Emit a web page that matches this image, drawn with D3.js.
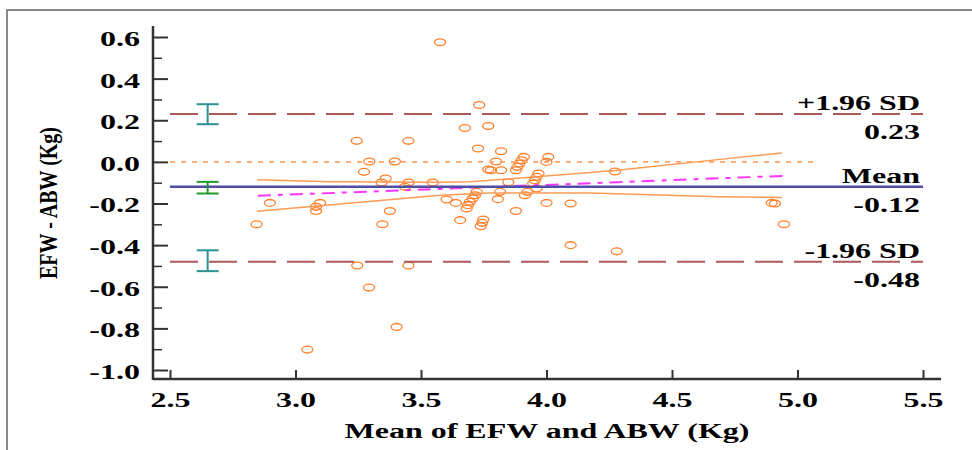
<!DOCTYPE html>
<html>
<head>
<meta charset="utf-8">
<script src="https://cdn.jsdelivr.net/npm/d3@7"></script>
<style>
  body { margin: 0; background: #fff; }
</style>
</head>
<body>
<svg id="chart" width="972" height="450"></svg>
<script>
// mean of EFW and ABW (x) and their difference (y), one entry per case
const meanX = [3.576, 3.732, 3.675, 3.768, 3.244, 3.450, 3.727, 3.819, 3.294, 3.396,
  3.799, 3.768, 3.273, 3.359, 3.343, 3.450, 3.547, 3.436, 2.898, 3.098,
  3.082, 3.082, 3.376, 3.602, 3.639, 3.722, 3.715, 3.706, 3.695, 3.687,
  3.682, 3.910, 3.901, 3.892, 3.884, 3.878, 4.007, 4.000, 3.779, 3.819,
  3.968, 3.961, 3.954, 3.947, 3.848, 3.815, 3.960, 3.924, 3.914, 3.806,
  4.000, 4.096, 3.878, 2.845, 3.346, 3.656, 3.748, 3.744, 3.738, 4.273,
  4.897, 4.910, 4.946, 4.096, 4.280, 3.246, 3.450, 3.293, 3.403, 3.047];
const diffY = [0.575, 0.273, 0.163, 0.172, 0.101, 0.101, 0.064, 0.051, 0.002, 0.002,
  0.002, -0.037, -0.048, -0.080, -0.099, -0.099, -0.099, -0.120, -0.197, -0.197,
  -0.216, -0.236, -0.236, -0.181, -0.197, -0.144, -0.160, -0.176, -0.192, -0.208,
  -0.224, 0.024, 0.008, -0.008, -0.024, -0.040, 0.024, 0.000, -0.040, -0.040,
  -0.056, -0.072, -0.088, -0.104, -0.098, -0.144, -0.128, -0.144, -0.160, -0.179,
  -0.197, -0.200, -0.236, -0.300, -0.300, -0.280, -0.277, -0.293, -0.309, -0.046,
  -0.197, -0.200, -0.300, -0.400, -0.430, -0.498, -0.498, -0.604, -0.793, -0.902];

const xTicks = [2.5, 3.0, 3.5, 4.0, 4.5, 5.0, 5.5];
const yTicks = [0.6, 0.4, 0.2, 0.0, -0.2, -0.4, -0.6, -0.8, -1.0];
const yMinorTicks = [0.5, 0.3, 0.1, -0.1, -0.3, -0.5, -0.7, -0.9];

// mean difference and limits of agreement
const limitNames = ['+1.96 SD', 'Mean', '-1.96 SD'];
const limitValues = [0.23, -0.12, -0.48];
const limitLabels = ['0.23', '-0.12', '-0.48'];
const limitSpan = [2.5, 5.5];
// 95% CI of each limit, drawn as bars at ciX
const ciX = 2.65;
const ciLow = [0.181, -0.152, -0.525];
const ciHigh = [0.277, -0.096, -0.425];

const zeroSpan = [2.5, 5.08];

// regression of difference on mean, with its confidence band
const regX = [2.85, 4.95];
const regY = [-0.163, -0.067];
const bandUpX = [2.847, 3.137, 3.576, 3.695, 4.273, 4.691, 4.938];
const bandUpY = [-0.086, -0.095, -0.098, -0.096, -0.042, 0.012, 0.043];
const bandLoX = [2.847, 3.576, 3.775, 4.173, 4.691, 4.938];
const bandLoY = [-0.237, -0.160, -0.149, -0.149, -0.168, -0.171];

const SX = 1.6; // the picture is wide: glyphs are stretched sideways
const font = "'Liberation Serif', 'Times New Roman', serif";

const svg = d3.select('#chart');

const x = d3.scaleLinear().domain([2.5, 5.5]).range([170, 923]);
const y = d3.scaleLinear().domain([-1.0, 0.6]).range([370, 37]);
const axisX = 153;
const axisY = 379;

// outer frame
svg
  .append('rect')
  .attr('x', 7)
  .attr('y', 10)
  .attr('width', 1000)
  .attr('height', 500)
  .style('fill', 'none')
  .style('stroke', '#666')
  .style('stroke-width', 1.5);

// scatter
svg
  .append('g')
  .selectAll('ellipse')
  .data(meanX.map((d, i) => [d, diffY[i]]))
  .enter()
  .append('ellipse')
  .attr('cx', (d) => x(d[0]))
  .attr('cy', (d) => y(d[1]))
  .attr('rx', 5.5)
  .attr('ry', 3.4)
  .style('fill', 'none')
  .style('stroke', '#ff7f2a')
  .style('stroke-width', 1.3);

const line = d3.line().x((d) => x(d[0])).y((d) => y(d[1]));

// zero line
svg
  .append('path')
  .attr('d', line(zeroSpan.map((d) => [d, 0])))
  .style('fill', 'none')
  .style('stroke', '#ffa366')
  .style('stroke-width', 1.6)
  .style('stroke-dasharray', '5,6');

// confidence band of regression
[[bandUpX, bandUpY], [bandLoX, bandLoY]].forEach(([bx, by]) => {
  svg
    .append('path')
    .attr('d', line(bx.map((d, i) => [d, by[i]])))
    .style('fill', 'none')
    .style('stroke', '#ff9a55')
    .style('stroke-width', 1.5);
});

// regression line
svg
  .append('path')
  .attr('d', line(regX.map((d, i) => [d, regY[i]])))
  .style('fill', 'none')
  .style('stroke', '#ff33ff')
  .style('stroke-width', 2)
  .style('stroke-dasharray', '13,7,5,7');

// mean and limits
limitValues.forEach((v, i) => {
  const isMean = i === 1;
  svg
    .append('path')
    .attr('d', line(limitSpan.map((d) => [d, v])))
    .style('fill', 'none')
    .style('stroke', isMean ? '#4f4fa8' : '#aa5a5a')
    .style('stroke-width', isMean ? 2.5 : 2)
    .style('stroke-dasharray', isMean ? null : '28,11');

  svg
    .append('text')
    .attr('transform', `translate(920,${y(v) - 4}) scale(${SX},1)`)
    .attr('text-anchor', 'end')
    .style('font', `bold 20px ${font}`)
    .text(limitNames[i]);
  svg
    .append('text')
    .attr('transform', `translate(920,${y(v) + 25}) scale(${SX},1)`)
    .attr('text-anchor', 'end')
    .style('font', `bold 20px ${font}`)
    .text(limitLabels[i]);

  // CI bars
  const col = isMean ? '#229a2a' : '#2a9292';
  const g = svg.append('g').style('stroke', col).style('stroke-width', 2);
  g.append('line')
    .attr('x1', x(ciX)).attr('x2', x(ciX))
    .attr('y1', y(ciLow[i])).attr('y2', y(ciHigh[i]));
  [ciLow[i], ciHigh[i]].forEach((c) => {
    g.append('line')
      .attr('x1', x(ciX) - 11).attr('x2', x(ciX) + 11)
      .attr('y1', y(c)).attr('y2', y(c));
  });
});

// axes
const yAxis = d3.axisLeft(y)
  .tickValues(yTicks)
  .tickSize(-15)
  .tickPadding(13 / SX)
  .tickFormat((d) => d.toFixed(1));
const gy = svg
  .append('g')
  .attr('transform', `translate(${axisX},0)`)
  .style('color', '#333')
  .call(yAxis);
gy.select('.domain').remove();
gy.selectAll('line').style('stroke-width', 2);
gy.selectAll('text')
  .attr('dy', '0.42em')
  .attr('transform', `scale(${SX},1)`)
  .style('font', `bold 20px ${font}`)
  .style('fill', '#000');

const gyMinor = svg
  .append('g')
  .attr('transform', `translate(${axisX},0)`)
  .style('color', '#333')
  .call(d3.axisLeft(y).tickValues(yMinorTicks).tickSize(-9).tickFormat(''));
gyMinor.select('.domain').remove();
gyMinor.selectAll('line').style('stroke-width', 1.5);

const xAxis = d3.axisBottom(x)
  .tickValues(xTicks)
  .tickSize(-9)
  .tickPadding(14)
  .tickFormat((d) => d.toFixed(1));
const gx = svg
  .append('g')
  .attr('transform', `translate(0,${axisY})`)
  .style('color', '#333')
  .call(xAxis);
gx.select('.domain').remove();
gx.selectAll('line').style('stroke-width', 2);
gx.selectAll('text')
  .attr('transform', `scale(${SX},1)`)
  .style('font', `bold 20px ${font}`)
  .style('fill', '#000');

// axis lines
svg
  .append('line')
  .attr('x1', axisX).attr('x2', axisX)
  .attr('y1', y(0.6) - 11).attr('y2', axisY + 1)
  .style('stroke', '#333')
  .style('stroke-width', 2.5);
svg
  .append('line')
  .attr('x1', axisX).attr('x2', x(5.5) + 18)
  .attr('y1', axisY).attr('y2', axisY)
  .style('stroke', '#333')
  .style('stroke-width', 2.5);

// titles
svg
  .append('text')
  .attr('transform', `translate(${(axisX + x(5.5) + 18) / 2},438) scale(${SX},1)`)
  .attr('text-anchor', 'middle')
  .style('font', `bold 20px ${font}`)
  .text('Mean of EFW and ABW (Kg)');
svg
  .append('text')
  .attr('transform', 'translate(57,203) scale(1.28,1) rotate(-90)')
  .attr('text-anchor', 'middle')
  .style('font', `bold 20px ${font}`)
  .text('EFW - ABW (Kg)');
</script>
</body>
</html>
